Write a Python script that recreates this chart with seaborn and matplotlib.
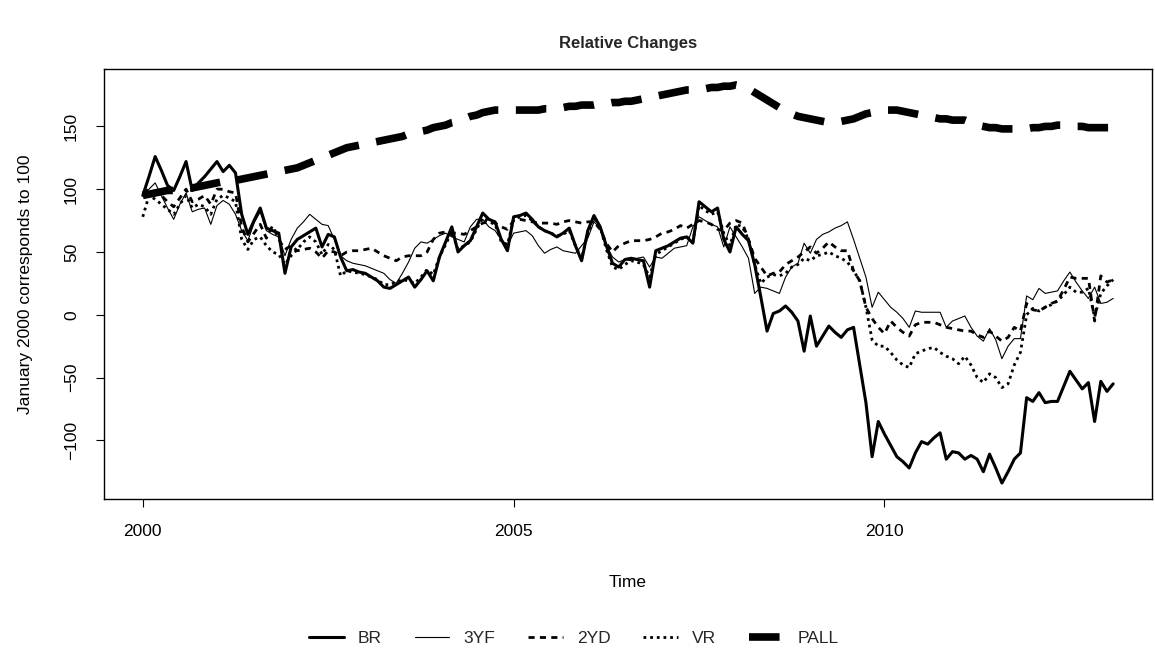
import numpy as np
import pandas as pd
import matplotlib
matplotlib.use("Agg")
import matplotlib.pyplot as plt
import seaborn as sns

# monthly index values, Jan 2000 = start
br = [95, 110, 126, 115, 103, 99, 110, 122, 99, 105, 110, 116, 122, 114, 119, 113,
      80, 64, 75, 85, 69, 67, 65, 33, 54, 60, 63, 66, 69, 54, 64, 62,
      46, 35, 36, 34, 33, 30, 27, 22, 21, 24, 27, 30, 22, 28, 35, 27,
      46, 58, 70, 50, 55, 59, 70, 81, 76, 74, 60, 51, 78, 79, 81, 76,
      70, 67, 65, 62, 65, 69, 55, 43, 67, 79, 70, 55, 41, 38, 44, 45,
      44, 43, 22, 51, 53, 55, 58, 61, 62, 57, 90, 86, 82, 85, 60, 50,
      70, 64, 59, 40, 14, -13, 1, 3, 7, 2, -5, -29, -1, -25, -17, -9,
      -14, -18, -12, -10, -40, -70, -113, -85, -95, -104, -113, -117, -122, -110, -101, -103,
      -98, -94, -115, -109, -110, -115, -112, -115, -125, -111, -122, -134, -125, -115, -110, -66,
      -69, -62, -70, -69, -69, -57, -45, -52, -59, -54, -85, -53, -61, -55]

yf3 = [95, 100, 105, 95, 85, 76, 88, 97, 82, 84, 85, 72, 87, 91, 88, 80,
       67, 59, 73, 82, 67, 64, 62, 47, 60, 69, 74, 80, 76, 72, 71, 60,
       47, 43, 41, 40, 39, 37, 35, 33, 28, 25, 33, 42, 53, 58, 57, 60,
       63, 65, 62, 60, 58, 70, 76, 76, 70, 67, 60, 55, 65, 66, 67, 63,
       55, 49, 52, 54, 51, 50, 49, 55, 61, 74, 69, 55, 46, 42, 44, 43,
       45, 46, 38, 46, 45, 49, 53, 54, 55, 70, 78, 75, 72, 70, 54, 70,
       62, 54, 45, 17, 22, 21, 19, 17, 30, 38, 41, 57, 49, 60, 64, 66,
       69, 71, 74, 60, 45, 30, 6, 18, 12, 6, 2, -3, -10, 3, 2, 2,
       2, 2, -10, -5, -3, -1, -10, -17, -21, -11, -20, -35, -25, -19, -19, 15,
       12, 21, 17, 18, 19, 27, 34, 26, 19, 13, 22, 9, 10, 13]

yd2 = [97, 100, 98, 95, 90, 86, 93, 100, 90, 92, 95, 88, 100, 100, 98, 97,
       70, 58, 65, 72, 61, 71, 60, 52, 55, 51, 52, 53, 50, 45, 51, 50,
       47, 50, 51, 51, 52, 53, 50, 47, 45, 43, 46, 47, 47, 47, 50, 60,
       65, 66, 65, 65, 64, 67, 70, 73, 74, 73, 70, 68, 75, 76, 75, 74,
       73, 73, 73, 72, 74, 75, 74, 73, 74, 74, 68, 57, 50, 55, 57, 59,
       59, 59, 60, 62, 65, 66, 68, 71, 69, 72, 75, 74, 72, 68, 67, 73,
       75, 73, 60, 45, 38, 31, 33, 34, 40, 43, 46, 50, 54, 49, 53, 58,
       54, 51, 51, 35, 27, 6, -3, -10, -15, -5, -10, -14, -17, -8, -6, -6,
       -6, -8, -10, -11, -12, -13, -13, -16, -18, -13, -17, -21, -18, -10, -13, 9,
       4, 3, 6, 9, 11, 20, 30, 29, 29, 29, -5, 31, 26, 28]

vr = [78, 95, 92, 88, 84, 80, 88, 95, 85, 88, 86, 80, 92, 95, 93, 90,
      60, 52, 60, 62, 55, 50, 48, 40, 47, 52, 58, 62, 58, 48, 56, 52,
      31, 35, 34, 33, 32, 30, 28, 24, 24, 26, 28, 27, 25, 30, 36, 32,
      46, 56, 66, 52, 55, 58, 68, 77, 74, 72, 58, 56, 76, 78, 79, 75,
      70, 67, 65, 63, 64, 67, 55, 45, 65, 77, 70, 52, 38, 36, 40, 43,
      42, 40, 30, 48, 51, 54, 57, 60, 62, 58, 87, 83, 80, 82, 65, 55,
      72, 70, 60, 40, 25, 30, 32, 31, 33, 38, 40, 45, 43, 47, 48, 50,
      47, 45, 42, 35, 27, 6, -20, -25, -25, -30, -36, -40, -42, -31, -29, -27,
      -26, -30, -33, -35, -39, -33, -40, -50, -54, -47, -50, -58, -55, -40, -30, 0,
      5, 3, 6, 8, 11, 16, 22, 18, 18, 21, -2, 17, 23, 28]

pall = [95, 96, 97, 98, 99, 99, 100, 101, 101, 102, 103, 104, 105, 106, 107, 107,
        108, 109, 110, 111, 112, 113, 114, 115, 116, 117, 119, 121, 123, 125, 127, 129,
        131, 133, 134, 135, 136, 137, 138, 139, 140, 141, 142, 144, 145, 146, 147, 149,
        150, 151, 153, 154, 156, 158, 159, 161, 162, 163, 163, 163, 163, 163, 163, 163,
        163, 164, 164, 165, 165, 166, 166, 167, 167, 167, 168, 168, 169, 169, 170, 170,
        171, 172, 173, 174, 175, 176, 177, 178, 179, 179, 180, 180, 181, 181, 182, 182,
        183, 182, 180, 177, 174, 171, 168, 165, 163, 160, 158, 157, 156, 155, 154, 153,
        153, 154, 155, 156, 158, 160, 161, 162, 163, 163, 163, 162, 161, 160, 159, 158,
        157, 156, 156, 155, 155, 155, 153, 151, 150, 149, 149, 148, 148, 148, 148, 148,
        149, 149, 150, 150, 151, 151, 151, 150, 150, 149, 149, 149, 149, 149]

series_names = ["BR", "3YF", "2YD", "VR", "PALL"]
series_values = [br, yf3, yd2, vr, pall]

years = 2000 + np.arange(len(br)) / 12
df = pd.DataFrame({name: vals for name, vals in zip(series_names, series_values)})
df["Time"] = years
long_df = df.melt(id_vars="Time", var_name="series", value_name="value")

sns.set_theme(style="ticks")
plt.rcParams["font.family"] = ["Liberation Sans", "DejaVu Sans"]

styles = {
    "BR":   dict(lw=2.2, ls="-"),
    "3YF":  dict(lw=0.8, ls="-"),
    "2YD":  dict(lw=2.0, ls=(0, (2.2, 1.9))),
    "VR":   dict(lw=2.0, ls=(0, (1.0, 1.4))),
    "PALL": dict(lw=5.5, ls=(0, (4.0, 2.3))),
}

fig = plt.figure(figsize=(11.55, 6.58), dpi=100)
ax = fig.add_axes([104 / 1155, 1 - 499 / 658, (1152 - 104) / 1155, (499 - 69) / 658])

for name in series_names:
    sub = long_df[long_df["series"] == name]
    sns.lineplot(data=sub, x="Time", y="value", ax=ax, color="black",
                 linewidth=styles[name]["lw"], linestyle=styles[name]["ls"],
                 label=name, legend=False)

ax.set_xlim(1999.477, 2013.607)
ax.set_ylim(-146.7, 195.7)
ax.set_xticks([2000, 2005, 2010])
ax.set_yticks([-100, -50, 0, 50, 100, 150])
for s in ax.spines.values():
    s.set_visible(True)
    s.set_color("black")
    s.set_linewidth(1.0)
ax.tick_params(axis="both", direction="out", length=6, width=0.8, color="black",
               labelsize=12.5, labelcolor="black")
ax.tick_params(axis="x", pad=12)
ax.tick_params(axis="y", pad=12)
for lab in ax.get_yticklabels():
    lab.set_rotation(90)
    lab.set_va("center")

ax.set_xlabel("Time", fontsize=12.5, color="black")
ax.set_ylabel("January 2000 corresponds to 100", fontsize=12.5, color="black")
ax.xaxis.set_label_coords(0.5, -0.177)
ax.yaxis.set_label_coords(-0.068, 0.5)
ax.set_title("Relative Changes", fontsize=12, fontweight="bold", pad=15)

handles, labels = ax.get_legend_handles_labels()
fig.legend(handles, labels, loc="center", bbox_to_anchor=(0.497, 0.03), ncol=5,
           frameon=False, fontsize=12.5, handlelength=2.0, handletextpad=0.8,
           columnspacing=1.9)

fig.savefig("out.png", dpi=100)
